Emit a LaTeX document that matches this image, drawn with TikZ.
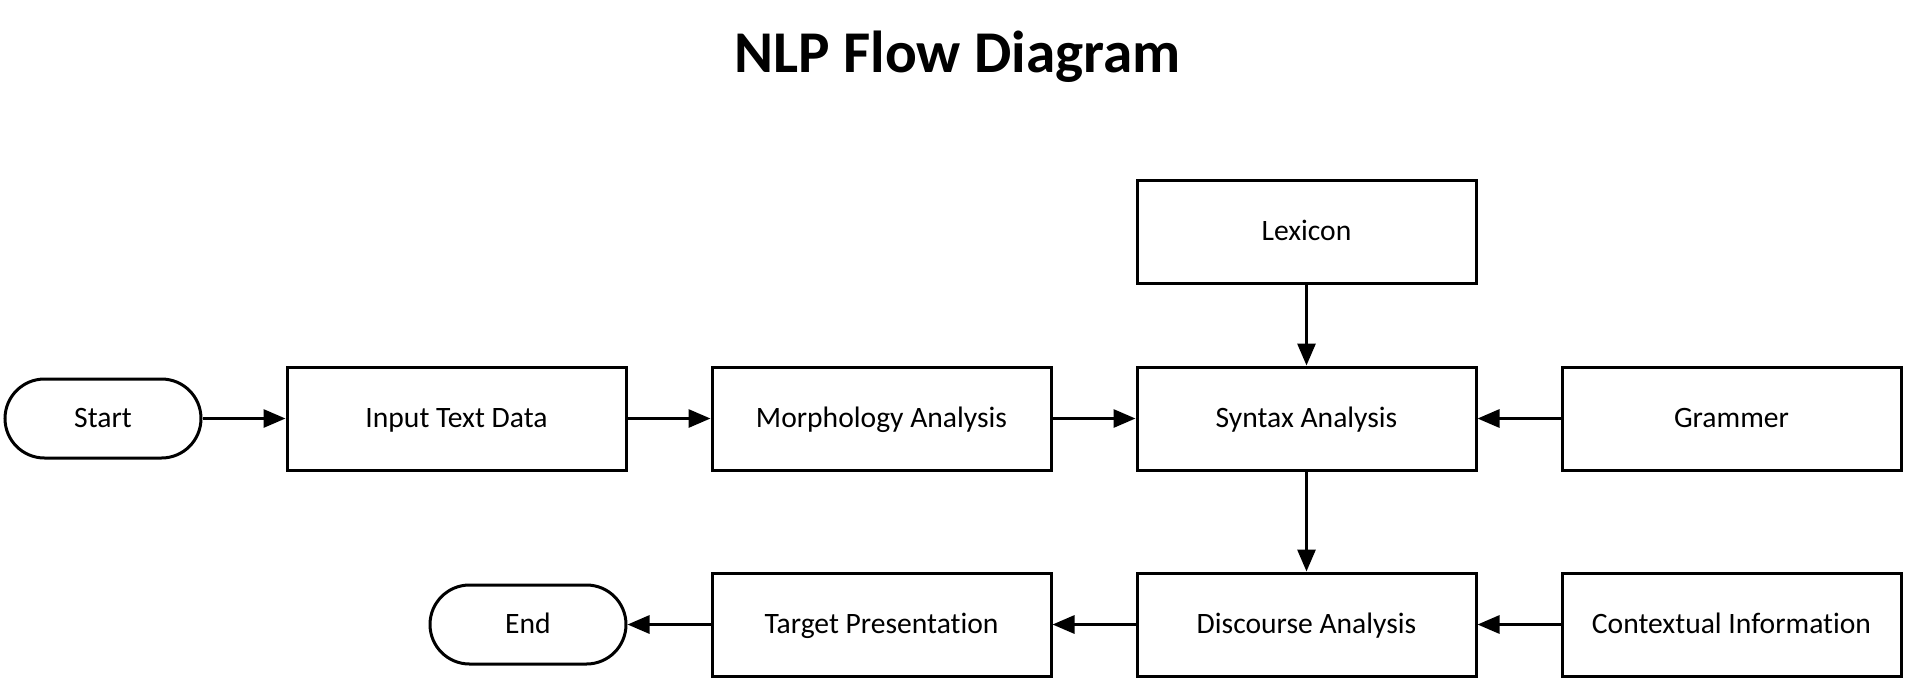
\documentclass[tikz,border=0pt]{standalone}
\usepackage{fontspec}
\setmainfont{Carlito}[Ligatures={NoCommon}]
\usetikzlibrary{positioning,arrows.meta}

\tikzset{
  proc/.style={draw, line width=1.5pt, rectangle, minimum width=169.5pt, minimum height=51.5pt, text height=0.86em, text depth=0pt, font=\fontsize{14.8}{18}\selectfont},
  term/.style={draw, line width=1.5pt, rectangle, rounded corners=19.75pt, minimum width=98pt, minimum height=39.5pt, text height=0.86em, text depth=0pt, font=\fontsize{14.8}{18}\selectfont},
  flow/.style={line width=1.5pt, -{Triangle[length=11pt,width=9pt]}},
}

\begin{document}
\begin{tikzpicture}[node distance=41.5pt]
    \useasboundingbox (0,0) rectangle (953.5pt,-340.5pt);
    % Title
    \node[anchor=base, font=\fontsize{29.6}{34}\selectfont\bfseries] (title) at (478.75pt,-36pt) {NLP Flow Diagram} ; %
    % Nodes
    \node[term] (start) at (51.5pt,-209.25pt) {Start} ; %
    \node[proc, right=of start] (input) {Input Text Data} ; %
    \node[proc, right=of input] (morph) {Morphology Analysis} ; %
    \node[proc, right=of morph] (syntax) {Syntax Analysis} ; %
    \node[proc, right=of syntax] (grammer) {Grammer} ; %
    \node[proc, above=40.5pt of syntax] (lexicon) {Lexicon} ; %
    \node[proc, below=50pt of syntax] (discourse) {Discourse Analysis} ; %
    \node[proc, right=of discourse] (context) {Contextual Information} ; %
    \node[proc, left=of discourse] (target) {Target Presentation} ; %
    \node[term, left=of target] (end) {End} ; %
    % Edges
    \draw[flow] (start) -- (input) ; %
    \draw[flow] (input) -- (morph) ; %
    \draw[flow] (morph) -- (syntax) ; %
    \draw[flow] (lexicon) -- (syntax) ; %
    \draw[flow] (grammer) -- (syntax) ; %
    \draw[flow] (syntax) -- (discourse) ; %
    \draw[flow] (context) -- (discourse) ; %
    \draw[flow] (discourse) -- (target) ; %
    \draw[flow] (target) -- (end) ; %
\end{tikzpicture}
\end{document}
